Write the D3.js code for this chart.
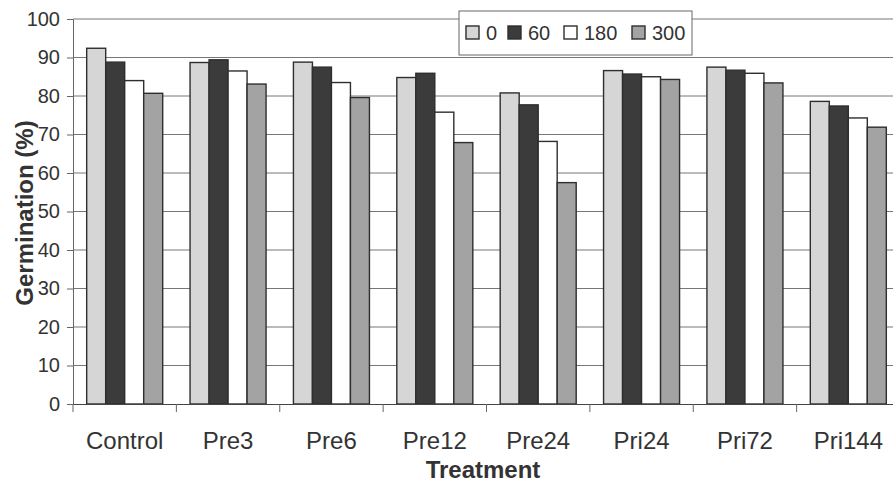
<!DOCTYPE html>
<html><head><meta charset="utf-8">
<script src="https://cdn.jsdelivr.net/npm/d3@7"></script>
<style>html,body{margin:0;padding:0;background:#fff;overflow:hidden}</style>
</head><body>
<svg id="chart" width="893" height="482"></svg>
<script>
const categories = ["Control","Pre3","Pre6","Pre12","Pre24","Pri24","Pri72","Pri144"];
const seriesNames = ["0","60","180","300"];
const s0   = [92.4, 88.7, 88.8, 84.8, 80.8, 86.6, 87.5, 78.6];
const s60  = [88.8, 89.4, 87.5, 85.9, 77.7, 85.7, 86.7, 77.4];
const s180 = [84.0, 86.5, 83.5, 75.8, 68.2, 85.0, 85.9, 74.3];
const s300 = [80.7, 83.1, 79.6, 67.9, 57.5, 84.3, 83.4, 71.9];
const yTicks = [0,10,20,30,40,50,60,70,80,90,100];

const seriesValues = [s0, s60, s180, s300];
const fills = ["#d6d6d6", "#3b3b3b", "#ffffff", "#a3a3a3"];
const FONT = "Liberation Sans, Arial, sans-serif";
const svg = d3.select("#chart");

const mLeft = 73, mRight = 900, mTop = 19, mBottom = 404;
const x = d3.scaleBand().domain(categories).range([mLeft, mRight]).paddingInner(0).paddingOuter(0);
const xi = d3.scaleBand().domain(seriesNames).range([0, x.bandwidth()]).paddingInner(0).paddingOuter(0.72);
const y = d3.scaleLinear().domain([0, 100]).range([mBottom, mTop]);

// gridlines
svg.append("g").selectAll("line").data(yTicks.filter(d => d > 0)).join("line")
  .attr("x1", mLeft).attr("x2", mRight)
  .attr("y1", d => y(d)).attr("y2", d => y(d))
  .attr("stroke", "#777").attr("stroke-width", 1);

// bars
const rows = [];
categories.forEach((c, i) => seriesNames.forEach((s, j) => rows.push({c, s, j, v: seriesValues[j][i]})));
svg.append("g").selectAll("rect").data(rows).join("rect")
  .attr("x", d => x(d.c) + xi(d.s))
  .attr("y", d => y(d.v))
  .attr("width", xi.bandwidth())
  .attr("height", d => y(0) - y(d.v))
  .attr("fill", d => fills[d.j])
  .attr("stroke", "#2e2e2e").attr("stroke-width", 1.4);

// y axis
const yAxis = svg.append("g").attr("transform", `translate(${mLeft},0)`)
  .call(d3.axisLeft(y).tickValues(yTicks).tickSize(6).tickPadding(7));
yAxis.select(".domain").attr("stroke", "#666").attr("stroke-width", 1);
yAxis.selectAll(".tick line").attr("stroke", "#666");
yAxis.selectAll("text").attr("font-family", FONT)
  .attr("font-size", 20).attr("fill", "#333");

// x axis
const xAxis = svg.append("g").attr("transform", `translate(0,${mBottom})`)
  .call(d3.axisBottom(x).tickSize(0));
xAxis.select(".domain").attr("stroke", "#444").attr("stroke-width", 1.2);
xAxis.selectAll("text").attr("font-family", FONT)
  .attr("font-size", 24).attr("fill", "#333").attr("y", 45).attr("dy", 0);
// boundary ticks between categories
svg.append("g").selectAll("line").data(categories).join("line")
  .attr("x1", d => x(d)).attr("x2", d => x(d))
  .attr("y1", mBottom).attr("y2", mBottom + 8)
  .attr("stroke", "#666");

// axis titles
svg.append("text").attr("x", 483).attr("y", 478).attr("text-anchor", "middle")
  .attr("font-family", FONT).attr("font-weight", "bold")
  .attr("font-size", 24).attr("fill", "#333").text("Treatment");
svg.append("text").attr("transform", "translate(33,213) rotate(-90)").attr("text-anchor", "middle")
  .attr("font-family", FONT).attr("font-weight", "bold")
  .attr("font-size", 24).attr("fill", "#333").text("Germination (%)");

// legend
const lg = svg.append("g");
lg.append("rect").attr("x", 459).attr("y", 11).attr("width", 233).attr("height", 44)
  .attr("fill", "#fff").attr("stroke", "#666").attr("stroke-width", 1);
const legX = [466, 508, 564, 632];
seriesNames.forEach((s, j) => {
  lg.append("rect").attr("x", legX[j]).attr("y", 26).attr("width", 13).attr("height", 13)
    .attr("fill", fills[j]).attr("stroke", "#2e2e2e").attr("stroke-width", 1.4);
  lg.append("text").attr("x", legX[j] + 20).attr("y", 40)
    .attr("font-family", FONT).attr("font-size", 20)
    .attr("fill", "#333").text(s);
});
</script>
</body></html>
